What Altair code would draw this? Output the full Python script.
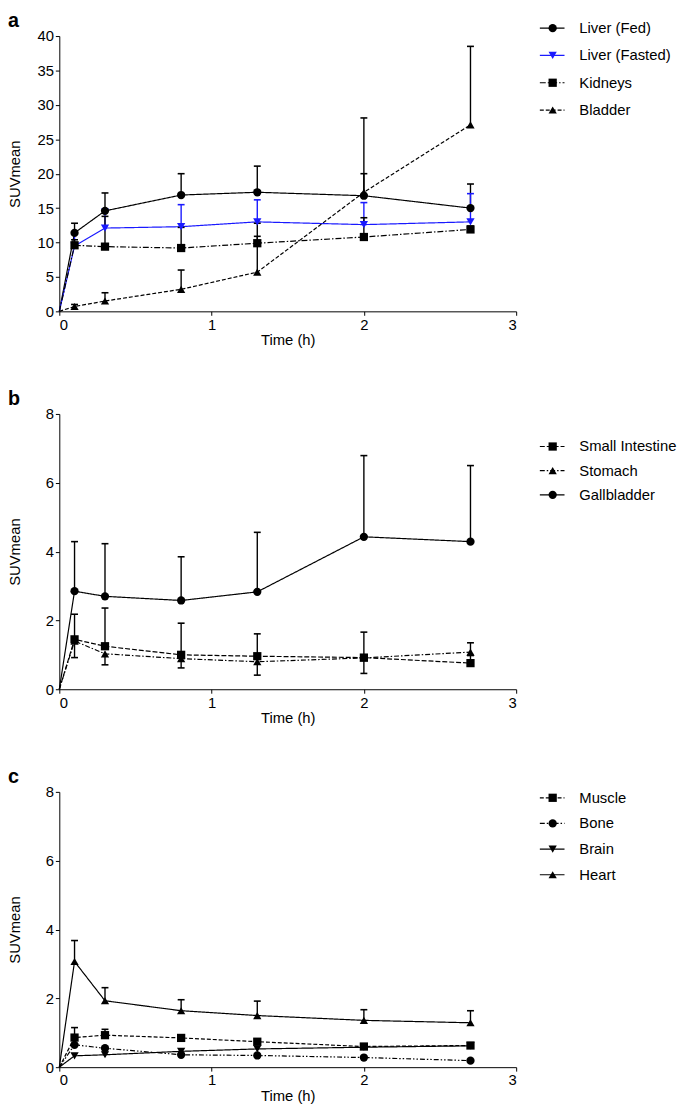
import altair as alt
import pandas as pd

FONT = "Liberation Sans"

times = [0, 0.1, 0.3, 0.8, 1.3, 2.0, 2.7]

# Panel a
names_a = ["Liver (Fed)", "Liver (Fasted)", "Kidneys", "Bladder"]
liver_fed = [0, 11.4, 14.6, 16.9, 17.3, 16.8, 15.0]
liver_fed_err = [None, 12.8, 17.2, 20.0, 21.1, 20.0, 18.5]
liver_fasted = [0, 9.5, 12.1, 12.3, 13.0, 12.6, 13.0]
liver_fasted_err = [None, 11.2, 14.9, 15.5, 16.2, 15.8, 17.1]
kidneys = [0, 9.6, 9.4, 9.2, 9.9, 10.8, 11.9]
kidneys_err = [None, 10.4, 13.8, 12.2, 12.8, 13.6, 12.4]
bladder = [0, 0.7, 1.5, 3.2, 5.7, 17.3, 27.1]
bladder_err = [None, 1.0, 2.7, 6.0, 10.9, 28.1, 38.5]

# Panel b
names_b = ["Small Intestine", "Stomach", "Gallbladder"]
small_int = [0, 1.45, 1.25, 1.00, 0.96, 0.92, 0.76]
small_int_err = [None, 2.18, 2.36, 1.92, 1.61, 1.66, 1.35]
stomach = [0, 1.40, 1.03, 0.89, 0.80, 0.91, 1.08]
stomach_err = [None, 0.92, 0.71, 0.62, 0.41, 0.46, 0.98]
gallbladder = [0, 2.85, 2.70, 2.58, 2.83, 4.43, 4.29]
gallbladder_err = [None, 4.29, 4.23, 3.85, 4.56, 6.79, 6.50]

# Panel c
names_c = ["Muscle", "Bone", "Brain", "Heart"]
muscle = [0, 0.86, 0.93, 0.85, 0.74, 0.60, 0.63]
muscle_err = [None, 1.15, 1.10, 0.92, 0.82, 0.64, 0.66]
bone = [0, 0.65, 0.55, 0.36, 0.34, 0.28, 0.19]
bone_err = [None, None, None, None, None, None, None]
brain = [0, 0.33, 0.36, 0.46, 0.53, 0.58, 0.62]
brain_err = [None, None, None, None, None, None, None]
heart = [0, 3.07, 1.93, 1.64, 1.50, 1.36, 1.29]
heart_err = [None, 3.68, 2.31, 1.96, 1.92, 1.67, 1.64]

x_ticks = [0, 1, 2, 3]
W, H = 463, 279


def panel(letter, names, values, errs, shapes, dashes, colors, ymax, ystep, leg_range):
    rows = []
    for n, vals, es in zip(names, values, errs):
        for t, v, e in zip(times, vals, es):
            rows.append({"series": n, "t": t, "v": v, "e": e})
    df = pd.DataFrame(rows)
    base = alt.Chart(df)

    xs = alt.Scale(domain=[0, 3], nice=False, zero=True)
    ys = alt.Scale(domain=[0, ymax], nice=False)

    def xaxis():
        return alt.Axis(values=x_ticks, format="d", titlePadding=1)

    def yaxis():
        return alt.Axis(values=list(range(0, ymax + 1, ystep)), titleX=-45,
                        titleY=H / 2, titleAlign="center", titleBaseline="middle")

    def xenc():
        return alt.X("t:Q", scale=xs, axis=xaxis(), title="Time (h)")

    def yenc(field):
        return alt.Y(field, scale=ys, axis=yaxis(), title="SUVmean")

    dash = alt.StrokeDash("series:N", scale=alt.Scale(domain=names, range=dashes), legend=None)
    color = alt.Color("series:N", scale=alt.Scale(domain=names, range=colors), legend=None)
    shape = alt.Shape("series:N", scale=alt.Scale(domain=names, range=shapes), legend=None)

    lines = base.mark_line(strokeWidth=1.2).encode(
        x=xenc(), y=yenc("v:Q"), strokeDash=dash, color=color, order="t:Q")
    errdf = base.transform_filter("isValid(datum.e)")
    rules = errdf.mark_rule(strokeWidth=1.4).encode(
        x=xenc(), y=yenc("v:Q"), y2="e:Q", color=color)
    caps = errdf.mark_point(shape="M-1,0L1,0", size=49, filled=False,
                            strokeWidth=1.6, opacity=1).encode(
        x=xenc(), y=yenc("e:Q"), color=color)
    pts = base.transform_filter("datum.t > 0").mark_point(
        filled=True, size=70, opacity=1).encode(
        x=xenc(), y=yenc("v:Q"), shape=shape, color=color)

    main = alt.layer(lines, rules, caps, pts)

    ldf = pd.DataFrame({"series": names})
    lb = alt.Chart(ldf)
    ly = alt.Y("series:N", axis=None,
               scale=alt.Scale(type="point", domain=names, range=leg_range, padding=0))
    lrule = lb.mark_rule(strokeWidth=1.2).encode(
        x=alt.value(W + 24), x2=alt.value(W + 49), y=ly, strokeDash=dash, color=color)
    lpt = lb.mark_point(filled=True, size=70, opacity=1).encode(
        x=alt.value(W + 37), y=ly, shape=shape, color=color)
    ltxt = lb.mark_text(align="left", baseline="middle", fontSize=15, font=FONT,
                        color="black").encode(x=alt.value(W + 64), y=ly, text="series:N")
    leg = alt.layer(lrule, lpt, ltxt)

    lab = alt.Chart(pd.DataFrame({"p": [letter]})).mark_text(
        fontSize=20, fontWeight="bold", font=FONT, align="left",
        baseline="top", color="black").encode(
        text="p:N", x=alt.value(-52), y=alt.value(-25))

    return alt.layer(main, leg, lab).resolve_scale(y="independent").properties(
        width=W, height=H)


pa = panel("a", names_a, [liver_fed, liver_fasted, kidneys, bladder],
           [liver_fed_err, liver_fasted_err, kidneys_err, bladder_err],
           ["circle", "triangle-down", "square", "triangle-up"],
           [[1, 0], [1, 0], [6, 2, 1.5, 2], [4, 2]],
           ["#000000", "#1a1aff", "#000000", "#000000"], 40, 5, [-8, 75])

pb = panel("b", names_b, [small_int, stomach, gallbladder],
           [small_int_err, stomach_err, gallbladder_err],
           ["square", "triangle-up", "circle"],
           [[5, 2], [5, 2, 1.5, 2], [1, 0]],
           ["#000000", "#000000", "#000000"], 8, 2, [33, 82])

pc = panel("c", names_c, [muscle, bone, brain, heart],
           [muscle_err, bone_err, brain_err, heart_err],
           ["square", "circle", "triangle-down", "triangle-up"],
           [[4, 2], [5, 2, 1.5, 2, 1.5, 2], [1, 0], [1, 0]],
           ["#000000", "#000000", "#000000", "#000000"], 8, 2, [6, 84])

chart = alt.vconcat(pa, pb, pc, spacing=42).resolve_scale(
    color="independent", shape="independent", strokeDash="independent"
).configure(
    padding={"left": 0, "top": -4, "right": 0, "bottom": 0},
    font=FONT,
).configure_view(stroke=None).configure_axis(
    grid=False, labelFont=FONT, titleFont=FONT, labelFontSize=15, titleFontSize=15,
    titleFontWeight="normal", labelColor="black", titleColor="black",
    domainColor="black", tickColor="black", tickSize=4, labelPadding=2,
    domainWidth=1, tickWidth=1)

chart.save("out.html", embed_options={"renderer": "svg", "actions": False})
